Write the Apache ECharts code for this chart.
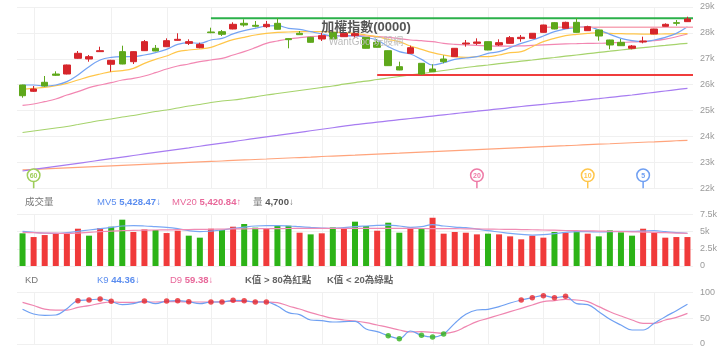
<!DOCTYPE html>
<html><head><meta charset="utf-8">
<script src="https://cdn.jsdelivr.net/npm/echarts@6/dist/echarts.min.js"></script>
<style>html,body{margin:0;padding:0;background:#fff}#c{width:720px;height:351px}</style>
</head><body><div id="c"></div>
<script>
// ---------- data ----------
const categories = Array.from({length: 61}, (_, i) => 'D' + (i + 1));
const opens  = [25989,25745,26093,26413,26413,27019,26992,27276,26788,27276,26888,27314,27405,27467,27713,27597,27429,28035,28047,28151,28370,28293,28240,28370,27778,27985,27830,27764,28021,27854,27893,27830,27637,27313,26695,27212,26826,26606,26992,27082,27571,27597,27662,27533,27597,27778,27790,28021,28395,28177,28408,28086,28112,27726,27637,27405,27649,27958,28254,28395,28434];
const closes = [25575,25834,25950,26363,26761,27212,27082,27314,26942,26799,27276,27662,27301,27700,27752,27662,27558,28008,27946,28331,28305,28255,28331,28139,27739,27931,27637,27893,27764,27985,27971,27405,27444,26735,26568,27429,26413,26502,26888,27405,27610,27649,27340,27623,27816,27830,27985,28305,28151,28408,28021,28240,27880,27533,27506,27494,27687,28151,28331,28370,28537];
const lows   = [25498,25718,25923,26336,26400,27000,26888,27270,26502,26790,26799,27300,27290,27455,27700,27533,27405,27990,27880,28140,28240,28216,28189,28130,27405,27920,27625,27687,27755,27845,27790,27395,27435,26725,26560,27200,26375,26495,26826,27070,27468,27533,27330,27494,27590,27661,27780,28010,28140,28170,28010,28080,27700,27367,27495,27366,27597,27950,28245,28279,28425];
const highs  = [26000,25950,26336,26517,26775,27301,27147,27467,26960,27506,27290,27726,27533,27791,27985,27752,27622,28201,28112,28409,28525,28460,28460,28563,27790,28073,27845,28008,28030,27995,28035,27840,27752,27320,26888,27506,26835,26788,27134,27415,27726,27790,27670,27752,27880,27919,27995,28315,28421,28434,28563,28279,28125,27735,27764,27533,27854,28160,28370,28498,28626];

const ma5   = [25988,25988,25950,25988,26117,26374,26696,26954,27057,27082,27082,27147,27237,27365,27558,27623,27597,27726,27790,27960,28086,28176,28266,28279,28176,28138,28047,27957,27880,27880,27893,27816,27726,27468,27275,27185,26979,26760,26850,26979,27030,27082,27211,27275,27430,27597,27726,27880,28047,28150,28215,28240,28112,27944,27790,27700,27661,27726,27829,27983,28240];
const ma10  = [25821,25860,25898,25962,26053,26181,26310,26413,26503,26542,26632,26825,26979,27108,27275,27340,27378,27443,27597,27740,27829,27919,27983,28022,28035,28047,28047,28047,28035,28009,27983,27919,27854,27751,27661,27494,27365,27237,27147,27082,27057,27082,27082,27147,27237,27275,27468,27661,27790,27893,27944,27983,28009,27983,27970,27960,27955,27955,27960,27965,27970];
const ma20  = [25203,25255,25345,25448,25602,25731,25885,25988,26078,26181,26246,26336,26464,26606,26722,26799,26889,26954,27018,27147,27275,27430,27597,27687,27764,27816,27854,27880,27893,27893,27893,27880,27854,27829,27777,27726,27700,27661,27597,27558,27533,27520,27500,27490,27490,27500,27520,27540,27560,27575,27585,27595,27600,27615,27630,27650,27670,27700,27760,27850,27958];
const ma60  = [24154,24212,24270,24328,24386,24463,24541,24618,24676,24753,24811,24888,24965,25023,25100,25178,25236,25313,25371,25409,25467,25533,25602,25660,25718,25776,25834,25892,25950,26019,26081,26135,26201,26259,26317,26375,26429,26490,26548,26606,26664,26714,26761,26811,26861,26907,26954,27004,27050,27100,27147,27197,27247,27293,27340,27386,27432,27475,27517,27560,27598];
const ma120 = [22668,22728,22788,22848,22907,22965,23025,23085,23146,23206,23266,23326,23385,23445,23505,23564,23624,23684,23745,23805,23865,23925,23984,24043,24103,24162,24221,24280,24339,24398,24456,24504,24552,24600,24648,24695,24742,24789,24836,24883,24930,24976,25021,25067,25112,25158,25200,25243,25286,25328,25371,25417,25463,25510,25556,25602,25654,25706,25757,25809,25861];
const ma240 = [22714,22732,22751,22771,22790,22808,22827,22847,22866,22884,22903,22923,22942,22960,22979,22999,23018,23036,23055,23075,23094,23112,23131,23151,23170,23188,23207,23227,23246,23264,23283,23303,23322,23340,23359,23379,23398,23416,23435,23455,23474,23492,23511,23531,23550,23568,23587,23607,23626,23644,23663,23683,23702,23720,23739,23759,23778,23796,23815,23835,23854];

const volumes = [4740,4200,4490,4740,4640,5410,4400,5500,5700,6720,4930,5310,5220,4780,5120,4400,4110,5410,5220,5700,6090,5560,5500,5850,5850,4830,4590,4740,5600,5500,6430,5800,5120,6280,4830,5600,5360,7000,4690,4930,4830,4590,4690,4590,4300,3870,4400,4110,4930,4830,5070,4690,4300,5170,4880,4400,5410,4830,4110,4200,4200];
const mv5  = [5020,4880,4780,4730,4830,5020,5220,5410,5600,5800,5850,5800,5700,5600,5410,5120,4980,5070,5220,5460,5650,5800,5850,5850,5800,5700,5600,5510,5460,5560,5700,5800,5890,5940,5800,5600,5700,5990,5800,5650,5560,5360,5120,4930,4730,4590,4490,4540,4690,4880,4980,4980,4930,4980,5020,5020,5070,5120,4980,4830,4730];
const mv20 = [4880,4830,4780,4760,4730,4780,4880,4980,5070,5120,5170,5200,5220,5240,5270,5290,5310,5330,5360,5380,5400,5410,5420,5430,5440,5450,5460,5460,5460,5460,5460,5460,5460,5460,5450,5450,5440,5430,5420,5410,5400,5380,5360,5330,5310,5290,5260,5220,5190,5150,5120,5100,5070,5040,5000,4960,4920,4880,4830,4780,4730];
const firstVolUp = false;

const kVals = [67.6,58.5,55.9,56.5,68.9,84.5,85.8,87.7,83.2,76.7,78.6,83.8,78.6,83.8,84.5,82.4,78.6,81.9,81.9,85.1,84.5,81.9,81.9,74.1,61.1,57.2,46.8,45.5,42.9,43.5,44.2,29.2,24.0,16.2,10.4,25.3,16.9,13.6,19.5,40.3,57.8,66.3,67.6,72.8,79.9,85.8,90.3,94.2,90.3,92.9,78.6,76.7,63.0,48.1,37.0,27.3,27.3,40.3,53.3,65.0,77.3];
const dVals = [81,75,68,66,66,71.5,74.7,79.3,81.9,81.2,81.2,81.9,81.9,82.5,82.5,81.9,81.9,81.9,82.5,83.2,83.2,82.5,81.9,80.6,74.1,68.2,61.1,55.2,50,46.8,44.8,41.6,37,32.5,27.3,23.4,24,22.7,20.8,24,33.8,43.5,50,56.5,63,69.5,76,82.5,84.5,87.1,85.8,82.5,72.8,63,54.6,46.8,40.3,40.3,46.8,52,59.8];
const kHigh = 80, kLow = 20;

const levelStart = [17, 32, 47];
const levelValue = [28563, 26375, 28216];
const weekIdx = [1, 8, 13, 17, 22, 27, 32, 37, 42, 47, 52, 57];
const maPeriods = [60, 20, 10, 5];

const priceTicks = {min: 22000, max: 29000, step: 1000};
const volTicks = {min: 0, max: 7500, step: 2500};
const kdTicks = {min: 0, max: 100, step: 50};

const titleText = '加權指數(0000)';
const watermark = 'WantGoo 玩股網';
const volLegend = {name: '成交量', mv5: '5,428.47', mv5Arrow: '↓', mv20: '5,420.84', mv20Arrow: '↑', vol: '4,700', volArrow: '↓'};
const kdLegend = {name: 'KD', k: '44.36', kArrow: '↓', d: '59.38', dArrow: '↓', rule1: 'K值 > 80為紅點', rule2: 'K值 < 20為綠點'};

// ---------- style ----------
const FONT = '"Liberation Sans","Noto Sans CJK TC",sans-serif';
const LF = '9.5px ';
const UP = '#d6252b', DOWN = '#5ea81b';
const VUP = '#f03a3a', VDOWN = '#2cb317';
const C5 = '#74a3f3', C10 = '#ffc64a', C20 = '#f287b2', C60 = '#a6d36c', C120 = '#a77cf1', C240 = '#ffa47c';
const maColor = {60: '#9fce5a', 20: '#ee7aa6', 10: '#ffc64a', 5: '#6f9ff2'};
const levelColors = ['#2bb14a', '#f03c3c', '#f7a6b6'];
const levelWidths = [2, 2.2, 1.5];
const GRIDC = '#f0f0f0';

const n = categories.length;
const volColors = volumes.map((v, i) => (i === 0 ? firstVolUp : closes[i] >= closes[i - 1]) ? VUP : VDOWN);

const grids = [
  {left: 17, right: 27, top: 7, height: 181.3},
  {left: 17, right: 27, top: 214.3, height: 51.7},
  {left: 17, right: 27, top: 292.7, height: 51.3}
];

function xAx(gi) {
  return {type: 'category', gridIndex: gi, data: categories, boundaryGap: true, show: false};
}
function yAx(gi, t, fmt) {
  return {
    type: 'value', gridIndex: gi, position: 'right', min: t.min, max: t.max, interval: t.step,
    axisLine: {show: false}, axisTick: {show: false},
    axisLabel: {color: '#9a9a9a', fontSize: 9, margin: 7, fontFamily: FONT, formatter: fmt},
    splitLine: {lineStyle: {color: GRIDC, width: 1}}
  };
}
const kfmt = v => v === 0 ? '0' : (v / 1000) + 'k';

function vLines(gi) {
  return {
    type: 'custom', xAxisIndex: gi, yAxisIndex: gi, z: 0, silent: true,
    data: weekIdx.map(i => [i, 0]),
    renderItem: (params, api) => {
      const p = api.coord([api.value(0), api.value(1)]);
      const cs = params.coordSys;
      const x = Math.round(p[0]) + 0.5;
      return {type: 'line', shape: {x1: x, y1: cs.y, x2: x, y2: cs.y + cs.height}, style: {stroke: GRIDC, lineWidth: 1}};
    }
  };
}
function maLine(name, data, color, gi) {
  return {name, type: 'line', xAxisIndex: gi || 0, yAxisIndex: gi || 0, data, symbol: 'none', smooth: 0.4,
    lineStyle: {color, width: 1.2}, silent: true, z: 3};
}
function richLegend(x, y, label, value, arrow, color, valueColor) {
  return {type: 'text', x, y, z: 100, style: {
    text: '{n|' + label + ' }{v|' + value + '}{n|' + arrow + '}', verticalAlign: 'middle',
    rich: {n: {fill: color, font: LF + FONT}, v: {fill: valueColor || color, font: 'bold ' + LF + FONT}}}};
}

const option = {
  animation: false,
  backgroundColor: '#ffffff',
  grid: grids,
  xAxis: [xAx(0), xAx(1), xAx(2)],
  yAxis: [yAx(0, priceTicks, kfmt), yAx(1, volTicks, kfmt), yAx(2, kdTicks, v => String(v))],
  series: [
    vLines(0), vLines(1), vLines(2),
    maLine('MA240', ma240, C240), maLine('MA120', ma120, C120), maLine('MA60', ma60, C60),
    maLine('MA20', ma20, C20), maLine('MA10', ma10, C10), maLine('MA5', ma5, C5),
    {
      type: 'custom', xAxisIndex: 0, yAxisIndex: 0, z: 4, silent: true,
      data: levelStart.map((s, i) => [s, levelValue[i]]),
      renderItem: (params, api) => {
        const p = api.coord([api.value(0), api.value(1)]);
        const cs = params.coordSys;
        return {type: 'line', shape: {x1: p[0], y1: p[1], x2: cs.x + cs.width, y2: p[1]},
          style: {stroke: levelColors[params.dataIndex], lineWidth: levelWidths[params.dataIndex]}};
      }
    },
    {
      type: 'candlestick', xAxisIndex: 0, yAxisIndex: 0, z: 5, barWidth: 7,
      data: opens.map((o, i) => [o, closes[i], lows[i], highs[i]]),
      itemStyle: {color: UP, color0: DOWN, borderColor: UP, borderColor0: DOWN, borderWidth: 1}
    },
    {
      type: 'custom', xAxisIndex: 0, yAxisIndex: 0, z: 6, silent: true,
      data: maPeriods.map(p => [n - p, priceTicks.min, p]),
      renderItem: (params, api) => {
        const base = api.coord([api.value(0), api.value(1)]);
        const per = api.value(2);
        const c = maColor[per];
        const cx = base[0], by = base[1], r = 6.3, cy = by - 13;
        return {type: 'group', children: [
          {type: 'line', shape: {x1: cx, y1: cy + r, x2: cx, y2: by}, style: {stroke: c, lineWidth: 1.5}},
          {type: 'circle', shape: {cx, cy, r}, style: {fill: '#fff', stroke: c, lineWidth: 1.5}},
          {type: 'text', style: {text: String(per), x: cx, y: cy + 0.5, align: 'center', verticalAlign: 'middle',
            fill: c, font: 'bold 7px ' + FONT}}
        ]};
      }
    },
    {
      type: 'bar', xAxisIndex: 1, yAxisIndex: 1, barWidth: 6, z: 2,
      data: volumes.map((v, i) => ({value: v, itemStyle: {color: volColors[i]}}))
    },
    maLine('MV5', mv5, '#7aa8f5', 1), maLine('MV20', mv20, '#f08cb4', 1),
    maLine('D', dVals, '#ef86b0', 2), maLine('K', kVals, '#6fa0f2', 2),
    {
      type: 'scatter', xAxisIndex: 2, yAxisIndex: 2, z: 5, symbolSize: 5.5, silent: true,
      data: kVals.map((v, i) => v > kHigh ? [i, v] : [i, null]),
      itemStyle: {color: '#e8262a'}
    },
    {
      type: 'scatter', xAxisIndex: 2, yAxisIndex: 2, z: 5, symbolSize: 5.5, silent: true,
      data: kVals.map((v, i) => v < kLow ? [i, v] : [i, null]),
      itemStyle: {color: '#33b21a'}
    }
  ],
  graphic: [
    {type: 'text', x: 366, y: 27, z: 100, style: {text: titleText, align: 'center', verticalAlign: 'middle',
      font: 'bold 13px ' + FONT, fill: '#555'}},
    {type: 'text', x: 366, y: 42.5, z: 100, style: {text: watermark, align: 'center', verticalAlign: 'middle',
      font: '10px ' + FONT, fill: '#bdbdbd'}},
    {type: 'text', x: 25, y: 202, z: 100, style: {text: volLegend.name, verticalAlign: 'middle', font: LF + FONT, fill: '#777'}},
    richLegend(97, 202, 'MV5', volLegend.mv5, volLegend.mv5Arrow, '#5b8def'),
    richLegend(172, 202, 'MV20', volLegend.mv20, volLegend.mv20Arrow, '#e8689a'),
    richLegend(253, 202, '量', volLegend.vol, volLegend.volArrow, '#777', '#555'),
    {type: 'text', x: 25, y: 280, z: 100, style: {text: kdLegend.name, verticalAlign: 'middle', font: LF + FONT, fill: '#777'}},
    richLegend(97, 280, 'K9', kdLegend.k, kdLegend.kArrow, '#5b8def'),
    richLegend(170, 280, 'D9', kdLegend.d, kdLegend.dArrow, '#e8689a'),
    {type: 'text', x: 245, y: 280, z: 100, style: {text: kdLegend.rule1, verticalAlign: 'middle', font: 'bold ' + LF + FONT, fill: '#666'}},
    {type: 'text', x: 327, y: 280, z: 100, style: {text: kdLegend.rule2, verticalAlign: 'middle', font: 'bold ' + LF + FONT, fill: '#666'}}
  ]
};

const chart = echarts.init(document.getElementById('c'));
chart.setOption(option);
</script>
</body></html>
